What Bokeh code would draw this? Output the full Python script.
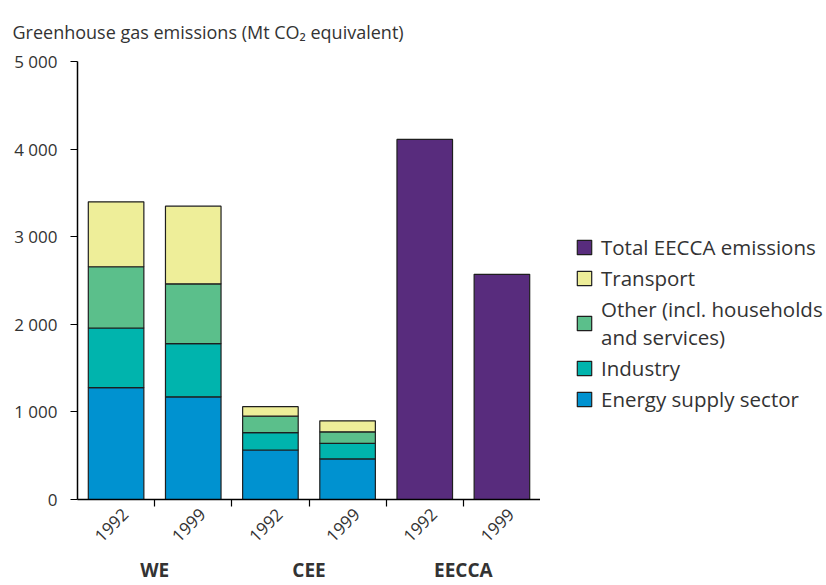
from math import pi
from bokeh.plotting import figure
from bokeh.layouts import row
from bokeh.models import (Range1d, LinearAxis, FixedTicker, Legend, LegendItem, ColumnDataSource,
                          Title)
from bokeh.embed import file_html
from bokeh.resources import INLINE

# ---- data ----
regions = ["WE", "CEE", "EECCA"]
years = ["1992", "1999"]
sector_regions = ["WE", "CEE"]
eecca_regions = ["EECCA"]
energy = [1277, 1172, 565, 463]
industry = [681, 607, 199, 178]
other = [699, 683, 187, 132]
transport = [741, 887, 109, 125]
eecca_total = [4111, 2571]
y_ticks = [0, 1000, 2000, 3000, 4000, 5000]
y_tick_labels = ["0", "1 000", "2 000", "3 000", "4 000", "5 000"]

series_names = ["energy", "industry", "other", "transport"]
series_labels = ["Energy supply sector", "Industry", "Other (incl. households\nand services)", "Transport"]
series_colors = ["#0092d0", "#00b4ad", "#5bbf8b", "#eeee99"]
total_label = "Total EECCA emissions"
total_color = "#582c7d"
title_text = "Greenhouse gas emissions (Mt CO\u2082 equivalent)"

FONT = "Open Sans"
TXT = "#333333"
OUTLINE = "#1e1e1e"
LABEL_SHIFT = 0.12  # visual offset of rotated year labels (style only)

# category slots: one per (region, year)
factors = [(r, y) for r in regions for y in years]
slot = {f: i + 0.5 for i, f in enumerate(factors)}
sector_x = [slot[(r, y)] for r in sector_regions for y in years]
eecca_x = [slot[(r, y)] for r in eecca_regions for y in years]
year_ticks = [slot[f] + LABEL_SHIFT for f in factors]
year_labels = {slot[f] + LABEL_SHIFT: f[1] for f in factors}
group_ticks = [(slot[(r, years[0])] + slot[(r, years[-1])]) / 2 for r in regions]
group_labels = {g: r for g, r in zip(group_ticks, regions)}
edge_ticks = list(range(1, len(factors)))

src = ColumnDataSource(dict(x=sector_x, energy=energy, industry=industry,
                            other=other, transport=transport))
tsrc = ColumnDataSource(dict(x=eecca_x, total=eecca_total))

p = figure(width=540, height=585, title=None,
           x_range=Range1d(0, len(factors)),
           y_range=Range1d(0, 5000),
           output_backend="svg", toolbar_location=None, x_axis_location=None,
           min_border_left=77, min_border_right=0, min_border_top=60, min_border_bottom=86)

rs = p.vbar_stack(series_names, x="x", width=0.72, source=src,
                  fill_color=series_colors, line_color=OUTLINE, line_width=1.2)
tr = p.vbar(x="x", top="total", width=0.72, source=tsrc,
            fill_color=total_color, line_color=OUTLINE, line_width=1.2)

# y axis
p.yaxis.ticker = FixedTicker(ticks=y_ticks)
p.yaxis.major_label_overrides = dict(zip(y_ticks, y_tick_labels))
p.yaxis.major_tick_out = 7
p.yaxis.major_tick_in = 0
p.yaxis.minor_tick_line_color = None
p.yaxis.axis_line_color = "black"
p.yaxis.axis_line_width = 1.5
p.yaxis.major_tick_line_color = "black"
p.yaxis.major_tick_line_width = 1.2
p.yaxis.major_label_text_font = FONT
p.yaxis.major_label_text_font_size = "17px"
p.yaxis.major_label_text_color = TXT
p.yaxis.major_label_standoff = 13

# x axis 1: boundary ticks
edge_axis = LinearAxis(ticker=FixedTicker(ticks=edge_ticks),
                       major_label_overrides={t: "" for t in edge_ticks},
                       major_label_standoff=0,
                       axis_line_color="black", axis_line_width=1.5,
                       major_tick_out=7, major_tick_in=0, major_tick_line_color="black",
                       major_tick_line_width=1.2, minor_tick_line_color=None)
p.add_layout(edge_axis, "below")

# x axis 2: year labels
year_axis = LinearAxis(ticker=FixedTicker(ticks=year_ticks),
                       major_label_overrides=year_labels,
                       axis_line_color=None, major_tick_line_color=None,
                       major_tick_out=0, major_tick_in=0, minor_tick_line_color=None,
                       major_label_orientation=pi / 4,
                       major_label_text_font=FONT, major_label_text_font_size="17px",
                       major_label_text_color=TXT, major_label_standoff=5)
p.add_layout(year_axis, "below")

# x axis 3: region labels
group_axis = LinearAxis(ticker=FixedTicker(ticks=group_ticks),
                        major_label_overrides=group_labels,
                        axis_line_color=None, major_tick_line_color=None,
                        major_tick_out=0, major_tick_in=0, minor_tick_line_color=None,
                        major_label_text_font=FONT, major_label_text_font_size="19px",
                        major_label_text_font_style="bold",
                        major_label_text_color=TXT, major_label_standoff=6)
p.add_layout(group_axis, "below")

# title
p.add_layout(Title(text=title_text, align="left", offset=-65, standoff=35,
                   text_font=FONT, text_font_size="18px", text_font_style="normal",
                   text_color=TXT), "above")

p.grid.visible = False
p.outline_line_color = None

# legend panel (separate figure so the legend is not clipped by the bar frame)
leg = figure(width=286, height=585, output_backend="svg", toolbar_location=None,
             x_axis_location=None, y_axis_location=None,
             min_border_left=0, min_border_right=0, min_border_top=0, min_border_bottom=0)
leg.grid.visible = False
leg.outline_line_color = None
proxy = {"total": leg.vbar(x="x", top="total", width=0.72, source=tsrc, visible=False,
                           fill_color=total_color, line_color=OUTLINE, line_width=1.2)}
for name, color in zip(series_names, series_colors):
    proxy[name] = leg.vbar(x="x", top=name, width=0.72, source=src, visible=False,
                           fill_color=color, line_color=OUTLINE, line_width=1.2)

items = [LegendItem(label=total_label, renderers=[proxy["total"]])]
for i in [3, 2, 1, 0]:
    items.append(LegendItem(label=series_labels[i], renderers=[proxy[series_names[i]]]))
legend = Legend(items=items, location=(35, 86), padding=0, margin=0,
                border_line_color=None, background_fill_alpha=0,
                inactive_fill_alpha=0,
                glyph_width=18, glyph_height=18, label_standoff=8, spacing=3,
                label_text_font=FONT, label_text_font_size="20.5px", label_text_color=TXT)
leg.add_layout(legend, "center")

layout = row(p, leg)
open("out.html", "w").write(file_html(layout, INLINE))
